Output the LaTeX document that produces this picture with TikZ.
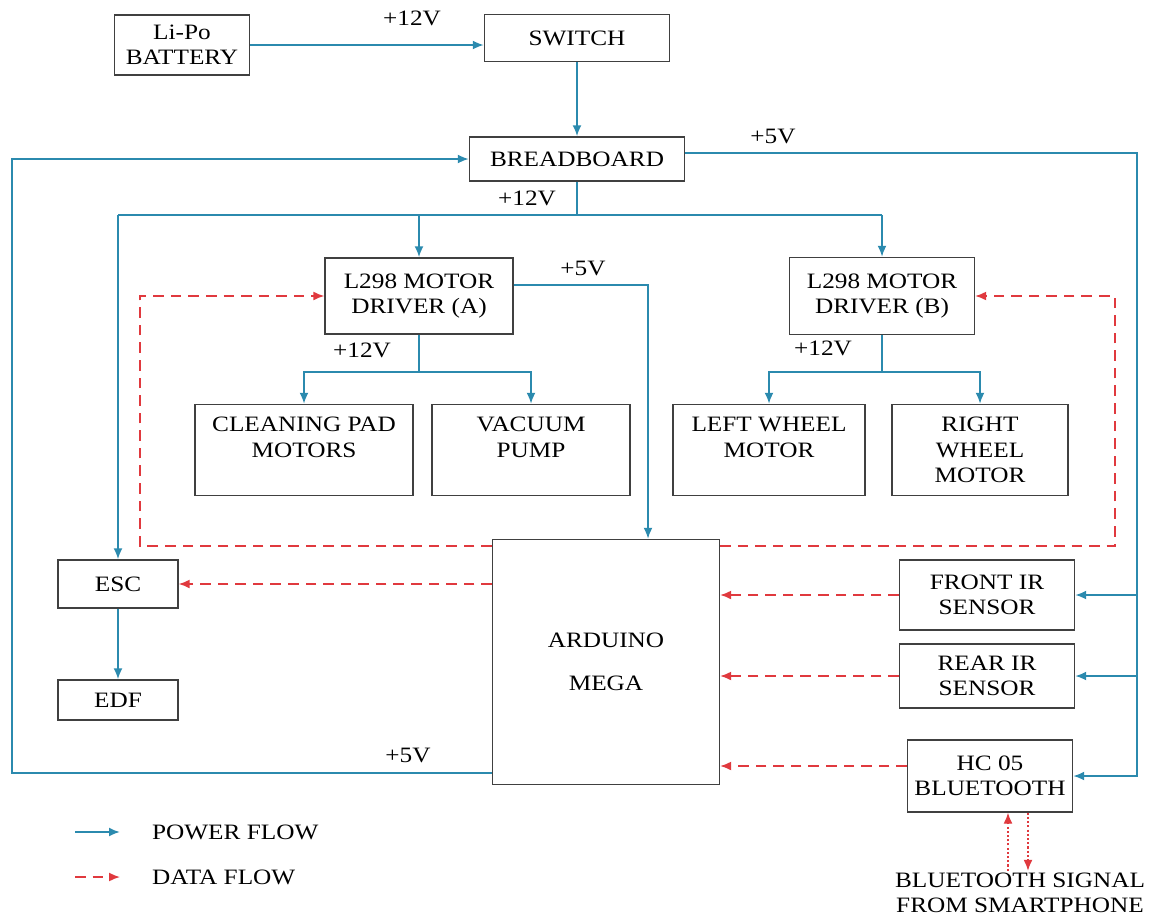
\documentclass[tikz,border=0pt]{standalone}
\usepackage{fontspec}
\setmainfont{Liberation Serif}[FakeStretch=1.15]
\usetikzlibrary{arrows.meta,positioning,calc}
\definecolor{fpower}{HTML}{2B8AAE}
\definecolor{fdata}{HTML}{E0393E}
\tikzset{
  block/.style  = {draw=black!75, line width=0.8pt, rectangle, align=center,
                   inner sep=2pt, font=\fontsize{12.5}{14.5}\selectfont},
  volt/.style   = {font=\fontsize{12.5}{14.5}\selectfont, inner sep=1pt},
  pline/.style  = {draw=fpower, line width=1.1pt},
  pwr/.style    = {pline, -{Latex[length=2.2mm,width=1.8mm]}},
  dat/.style    = {draw=fdata, line width=0.9pt, dash pattern=on 6pt off 4pt,
                   -{Latex[length=2.2mm,width=1.8mm]}},
  sig/.style    = {draw=fdata, line width=0.8pt, dash pattern=on 1.2pt off 1.2pt,
                   -{Latex[length=2.2mm,width=1.8mm]}},
}

\begin{document}
\begin{tikzpicture}[x=0.02cm,y=-0.02cm]
\useasboundingbox (0,0) rectangle (1152,920);
% ---- supply ----
\node[block, minimum width=2.7cm, minimum height=1.2cm] (bat) at (182,45) {Li-Po\\BATTERY};
\node[block, minimum width=3.7cm, minimum height=0.94cm] (sw) at (577,38) {SWITCH};
\node[block, minimum width=4.3cm, minimum height=0.88cm] (bb) at (577,159) {BREADBOARD};
% ---- drivers and loads ----
\node[block, minimum width=3.76cm, minimum height=1.52cm] (drva) at (419,296) {L298 MOTOR\\DRIVER (A)};
\node[block, minimum width=3.7cm, minimum height=1.54cm] (drvb) at (882,296) {L298 MOTOR\\DRIVER (B)};
\node[block, minimum width=4.36cm, minimum height=1.82cm] (clean) at (304,450) {CLEANING PAD\\MOTORS\\ };
\node[block, minimum width=3.96cm, minimum height=1.82cm] (vac) at (531,450) {VACUUM\\PUMP\\ };
\node[block, minimum width=3.84cm, minimum height=1.82cm] (lwm) at (769,450) {LEFT WHEEL\\MOTOR\\ };
\node[block, minimum width=3.52cm, minimum height=1.82cm] (rwm) at (980,450) {RIGHT\\WHEEL\\MOTOR};
\node[block, minimum width=2.4cm, minimum height=0.96cm] (esc) at (118,584) {ESC};
\node[block, minimum width=2.4cm, minimum height=0.8cm] (edf) at (118,700) {EDF};
% ---- controller and sensors ----
\node[block, minimum width=4.54cm, minimum height=4.9cm] (ard) at (606,662) {ARDUINO\\[10pt]MEGA};
\node[block, minimum width=3.5cm, minimum height=1.4cm] (fir) at (987,595) {FRONT IR\\SENSOR};
\node[block, minimum width=3.5cm, minimum height=1.28cm] (rir) at (987,676) {REAR IR\\SENSOR};
\node[block, minimum width=3.3cm, minimum height=1.44cm] (hc) at (990,776) {HC 05\\BLUETOOTH};
\node[volt, align=center] (bts) at (1020,893) {BLUETOOTH SIGNAL\\FROM SMARTPHONE};
% ---- power flow ----
\draw[pwr] (bat) -- (bat -| sw.west);
\node[volt] (v1) at (412,18) {+12V};
\draw[pwr] (sw) -- (bb);
% 5V rail on the right
\coordinate (rail) at (1137,0);
\draw[pwr] ($(bb.east)+(0,-6)$) -| (rail |- hc.east) -- (hc.east);
\draw[pwr] (rail |- fir.east) -- (fir.east);
\draw[pwr] (rail |- rir.east) -- (rir.east);
\node[volt] (v2) at (773,136) {+5V};
% 5V back from arduino
\coordinate (lrail) at (12,0);
\draw[pwr] ($(ard.south west)+(0,-12)$) -| (lrail |- bb.west) -- (bb.west);
\node[volt] (v3) at (408,755) {+5V};
% 12V bus
\coordinate (bus) at (577,215);
\draw[pline] (bb.south) -- (bus);
\draw[pline] (esc.north |- bus) -- (drvb.north |- bus);
\draw[pwr] (esc.north |- bus) -- (esc.north);
\draw[pwr] (drva.north |- bus) -- (drva.north);
\draw[pwr] (drvb.north |- bus) -- (drvb.north);
\node[volt] (v4) at (527,198) {+12V};
% driver A
\draw[pwr] ($(drva.east)+(0,-11)$) -| ($(ard.north)+(42,0)$);
\node[volt] (v5) at (583,268) {+5V};
\coordinate (busa) at (0,372);
\draw[pline] (drva.south) -- (drva.south |- busa);
\draw[pwr] (drva.south |- busa) -| (clean.north);
\draw[pwr] (drva.south |- busa) -| (vac.north);
\node[volt] (v6) at (362,350) {+12V};
% driver B
\draw[pline] (drvb.south) -- (drvb.south |- busa);
\draw[pwr] (drvb.south |- busa) -| (lwm.north);
\draw[pwr] (drvb.south |- busa) -| (rwm.north);
\node[volt] (v7) at (823,348) {+12V};
\draw[pwr] (esc) -- (edf);
% ---- data flow ----
\coordinate (dl) at (140,0);
\coordinate (dr) at (1115,0);
\draw[dat] ($(ard.north west)+(0,7)$) -| (dl |- drva.west) -- (drva.west);
\draw[dat] ($(ard.north east)+(0,7)$) -| (dr |- drvb.east) -- (drvb.east);
\draw[dat] (ard.west |- esc.east) -- (esc.east);
\draw[dat] (fir.west) -- (fir.west -| ard.east);
\draw[dat] (rir.west) -- (rir.west -| ard.east);
\draw[dat] ($(hc.west)+(0,-10)$) -- ($(hc.west -| ard.east)+(0,-10)$);
% bluetooth link
\coordinate (bup) at (1008,0);
\coordinate (bdn) at (1028,0);
\draw[sig] (bup |- bts.north) -- (bup |- hc.south);
\draw[sig] (bdn |- hc.south) -- (bdn |- bts.north);
% ---- legend ----
\node[volt, anchor=west] (lgp) at (150,832) {POWER FLOW};
\node[volt, anchor=west] (lgd) at (150,877) {DATA FLOW};
\draw[pwr] ($(lgp.west)+(-75,0)$) -- ($(lgp.west)+(-30,0)$);
\draw[dat] ($(lgd.west)+(-75,0)$) -- ($(lgd.west)+(-30,0)$);
\end{tikzpicture}
\end{document}
